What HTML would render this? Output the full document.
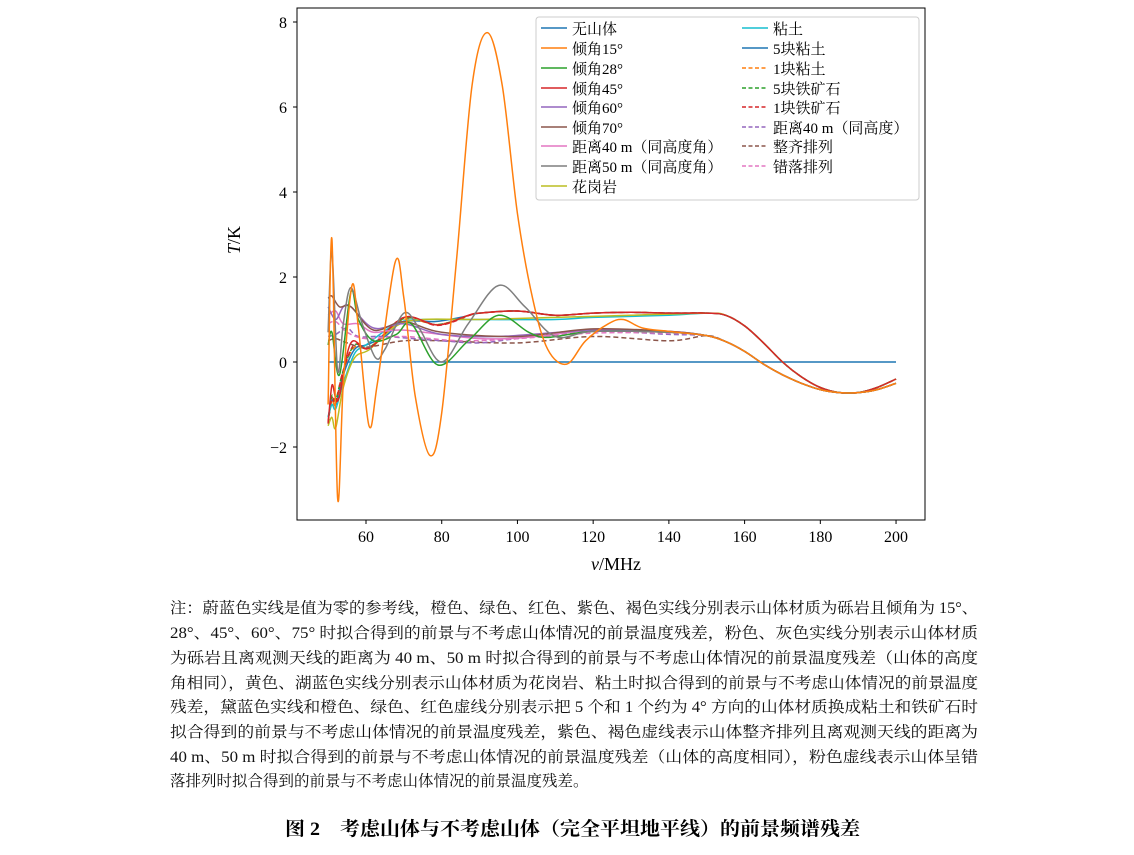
<!DOCTYPE html>
<html><head><meta charset="utf-8"><style>
body{margin:0;background:#fff}
svg text{font-family:"Liberation Serif","Noto Serif CJK SC",serif;}
</style></head><body>
<svg id="s" width="1134" height="850" xmlns="http://www.w3.org/2000/svg">
<rect x="297" y="8" width="628" height="512" fill="none" stroke="#000" stroke-width="1"/>
<g id="ticks" font-size="16" fill="#000"></g>
<g id="curves" fill="none" stroke-width="1.5" stroke-linejoin="round"></g>
<text x="240" y="240" font-size="18" text-anchor="middle" transform="rotate(-90 240 240)" font-style="italic">T<tspan font-style="normal">/K</tspan></text>
<text x="616" y="570" font-size="18" text-anchor="middle"><tspan font-style="italic">ν</tspan>/MHz</text>
<rect x="536" y="17" width="383" height="183" rx="3" fill="#fff" fill-opacity="0.85" stroke="#ccc"/>
<g id="legend" font-size="15"></g>
<g font-size="15.5" fill="#111">
<text x="170" y="613" textLength="808" lengthAdjust="spacingAndGlyphs">注：蔚蓝色实线是值为零的参考线，橙色、绿色、红色、紫色、褐色实线分别表示山体材质为砾岩且倾角为 15°、</text>
<text x="170" y="638" textLength="808" lengthAdjust="spacingAndGlyphs">28°、45°、60°、75° 时拟合得到的前景与不考虑山体情况的前景温度残差，粉色、灰色实线分别表示山体材质</text>
<text x="170" y="663" textLength="808" lengthAdjust="spacingAndGlyphs">为砾岩且离观测天线的距离为 40 m、50 m 时拟合得到的前景与不考虑山体情况的前景温度残差（山体的高度</text>
<text x="170" y="688" textLength="808" lengthAdjust="spacingAndGlyphs">角相同），黄色、湖蓝色实线分别表示山体材质为花岗岩、粘土时拟合得到的前景与不考虑山体情况的前景温度</text>
<text x="170" y="712" textLength="808" lengthAdjust="spacingAndGlyphs">残差，黛蓝色实线和橙色、绿色、红色虚线分别表示把 5 个和 1 个约为 4° 方向的山体材质换成粘土和铁矿石时</text>
<text x="170" y="737" textLength="808" lengthAdjust="spacingAndGlyphs">拟合得到的前景与不考虑山体情况的前景温度残差，紫色、褐色虚线表示山体整齐排列且离观测天线的距离为</text>
<text x="170" y="762" textLength="808" lengthAdjust="spacingAndGlyphs">40 m、50 m 时拟合得到的前景与不考虑山体情况的前景温度残差（山体的高度相同），粉色虚线表示山体呈错</text>
<text x="170" y="786">落排列时拟合得到的前景与不考虑山体情况的前景温度残差。</text>
</g>
<text x="285" y="835" font-size="19" font-weight="bold" textLength="575" lengthAdjust="spacingAndGlyphs" font-family="'Noto Sans CJK SC',sans-serif">图 2　考虑山体与不考虑山体（完全平坦地平线）的前景频谱残差</text>
</svg>
<script>
const NS="http://www.w3.org/2000/svg";
const X=f=>366+(f-60)*3.786, Y=v=>362-v*42.5;
function el(t,a,p,txt){const e=document.createElementNS(NS,t);for(const k in a)e.setAttribute(k,a[k]);if(txt!==undefined)e.textContent=String(txt);p.appendChild(e);return e;}
const tk=document.getElementById('ticks');
for(const f of [60,80,100,120,140,160,180,200]){el('line',{x1:X(f),x2:X(f),y1:520,y2:524,stroke:'#000'},tk);el('text',{x:X(f),y:542,'text-anchor':'middle'},tk,f);}
for(const v of [-2,0,2,4,6,8]){el('line',{x1:293,x2:297,y1:Y(v),y2:Y(v),stroke:'#000'},tk);el('text',{x:287,y:Y(v)+6,'text-anchor':'end'},tk,v<0?'−'+(-v):String(v));}
const UT=[[150,1.15],[155,1.1],[160,0.85],[165,0.45],[170,0.0],[175,-0.35],[180,-0.6],[185,-0.72],[190,-0.72],[195,-0.6],[200,-0.4]];
const LT=[[150,0.62],[155,0.48],[160,0.25],[165,-0.05],[170,-0.3],[175,-0.5],[180,-0.65],[185,-0.72],[190,-0.72],[195,-0.65],[200,-0.5]];
const upMid=[[90,1.15],[100,1.2],[110,1.1],[120,1.15],[130,1.17],[140,1.15]];
const D=[
['#1f77b4',null,[[50,0],[200,0]]],
['#1f77b4',null,[[50,-1.3],[51,-0.9],[52,-1.0],[54,-0.3],[57,0.3],[60,0.4],[65,0.6],[70,0.95],[78,0.95],[85,1.05]].concat(upMid,UT)],
['#ff7f0e','5,3',[[50,-1.4],[51,-0.9],[52,-1.0],[54,-0.2],[57,0.35],[61,0.35],[70,1.0],[79,0.88],[88,1.12]].concat(upMid,UT)],
['#2ca02c','5,3',[[50,-1.45],[51,-0.8],[52,-0.9],[54,-0.2],[57,0.4],[61,0.35],[70,1.02],[79,0.88],[88,1.12]].concat(upMid,UT)],
['#d62728','5,3',[[50,-1.4],[51,-0.85],[52,-0.95],[54,-0.2],[57,0.42],[61,0.33],[70,1.05],[79,0.86],[88,1.12]].concat(upMid,UT)],
['#17becf',null,[[50,-1.3],[51,-1.0],[52,-1.1],[54,-0.5],[57,0.2],[60,0.4],[68,0.9],[75,1.0],[90,1.0],[110,1.0],[120,1.05],[140,1.1]].concat(UT)],
['#bcbd22',null,[[50,-1.5],[51,-1.3],[52,-1.55],[54,-0.6],[57,0.1],[61,0.3],[68,0.85],[75,1.0],[90,1.0],[110,1.05],[130,1.1]].concat(UT)],
['#d62728',null,[[50,-1.45],[51,-0.55],[52,-0.85],[53,-0.8],[56,0.45],[61,0.33],[70,1.05],[79,0.87],[87,1.1]].concat(upMid,UT)],
['#8c564b','5,3',[[50,0.5],[52,0.55],[55,0.45],[60,0.35],[70,0.5],[80,0.5],[100,0.45],[120,0.6],[140,0.5]].concat(LT)],
['#9467bd','5,3',[[50,0.6],[52,0.65],[55,0.8],[58,0.6],[65,0.6],[80,0.5],[90,0.45],[100,0.55],[120,0.72],[140,0.65]].concat(LT)],
['#e377c2','5,3',[[50,0.9],[52,0.95],[55,0.7],[60,0.55],[70,0.6],[85,0.5],[100,0.55],[120,0.68],[140,0.68]].concat(LT)],
['#e377c2',null,[[50,1.1],[52,1.2],[54,0.9],[58,0.9],[62,0.7],[70,0.75],[90,0.55],[105,0.6],[120,0.75],[140,0.72]].concat(LT)],
['#9467bd',null,[[50,1.3],[52,1.0],[54,1.3],[56,1.3],[62,0.8],[70,0.9],[80,0.65],[95,0.6],[120,0.75],[140,0.72]].concat(LT)],
['#8c564b',null,[[50,1.5],[51,1.55],[53,1.3],[56,1.3],[62,0.75],[70,0.95],[80,0.7],[100,0.6],[120,0.78],[140,0.72]].concat(LT)],
['#2ca02c',null,[[50,0.4],[51,0.7],[53,-0.3],[56,1.65],[58,1.0],[62,0.5],[68,0.65],[72,0.9],[79,-0.07],[87,0.5],[95,1.1],[103,0.7],[108,0.58],[120,0.72],[140,0.7]].concat(LT)],
['#7f7f7f',null,[[50,0.7],[51,2.6],[52.5,-0.2],[54,0.9],[56,1.75],[59,0.9],[62.5,0.1],[65,0.3],[70,1.15],[74,0.8],[80,0.0],[87,0.9],[95,1.8],[102,1.3],[110,0.6],[120,0.72],[140,0.7]].concat(LT)],
['#ff7f0e',null,[[50,-1.0],[51,2.9],[52.5,-3.2],[54,-0.5],[56.3,1.8],[58,0.8],[60.8,-1.5],[63,-0.5],[67.7,2.35],[70,1.5],[73,-0.8],[76.9,-2.2],[80,-1.2],[84,2.5],[88,6.5],[92,7.75],[96,6.5],[100,3.5],[104,1.5],[108,0.3],[113,-0.05],[118,0.5],[124,0.9],[128,1.0],[133,0.8],[140,0.72]].concat(LT)]
];
function path(pts){const P=pts.map(p=>[X(p[0]),Y(p[1])]);let d='M'+P[0][0].toFixed(1)+','+P[0][1].toFixed(1);
for(let i=0;i<P.length-1;i++){const p0=P[i-1]||P[i],p1=P[i],p2=P[i+1],p3=P[i+2]||p2;
d+=' C'+(p1[0]+(p2[0]-p0[0])/6).toFixed(1)+','+(p1[1]+(p2[1]-p0[1])/6).toFixed(1)+' '+(p2[0]-(p3[0]-p1[0])/6).toFixed(1)+','+(p2[1]-(p3[1]-p1[1])/6).toFixed(1)+' '+p2[0].toFixed(1)+','+p2[1].toFixed(1);}
return d;}
const cg=document.getElementById('curves');
for(const [c,da,pts] of D){const a={d:path(pts),stroke:c};if(da)a['stroke-dasharray']=da;el('path',a,cg);}
const lg=document.getElementById('legend');
const L1=[['#1f77b4',0,'无山体'],['#ff7f0e',0,'倾角15°'],['#2ca02c',0,'倾角28°'],['#d62728',0,'倾角45°'],['#9467bd',0,'倾角60°'],['#8c564b',0,'倾角70°'],['#e377c2',0,'距离40 m（同高度角）'],['#7f7f7f',0,'距离50 m（同高度角）'],['#bcbd22',0,'花岗岩']];
const L2=[['#17becf',0,'粘土'],['#1f77b4',0,'5块粘土'],['#ff7f0e',1,'1块粘土'],['#2ca02c',1,'5块铁矿石'],['#d62728',1,'1块铁矿石'],['#9467bd',1,'距离40 m（同高度）'],['#8c564b',1,'整齐排列'],['#e377c2',1,'错落排列']];
const ys=[28,48,68,88,107,127,146,166,186];
[[L1,541],[L2,742]].forEach(([L,x0])=>L.forEach((r,i)=>{const a={x1:x0,x2:x0+26,y1:ys[i],y2:ys[i],stroke:r[0],'stroke-width':1.5};if(r[1])a['stroke-dasharray']='4,2.5';el('line',a,lg);el('text',{x:x0+31,y:ys[i]+6},lg,r[2]);}));
</script>
</body></html>
